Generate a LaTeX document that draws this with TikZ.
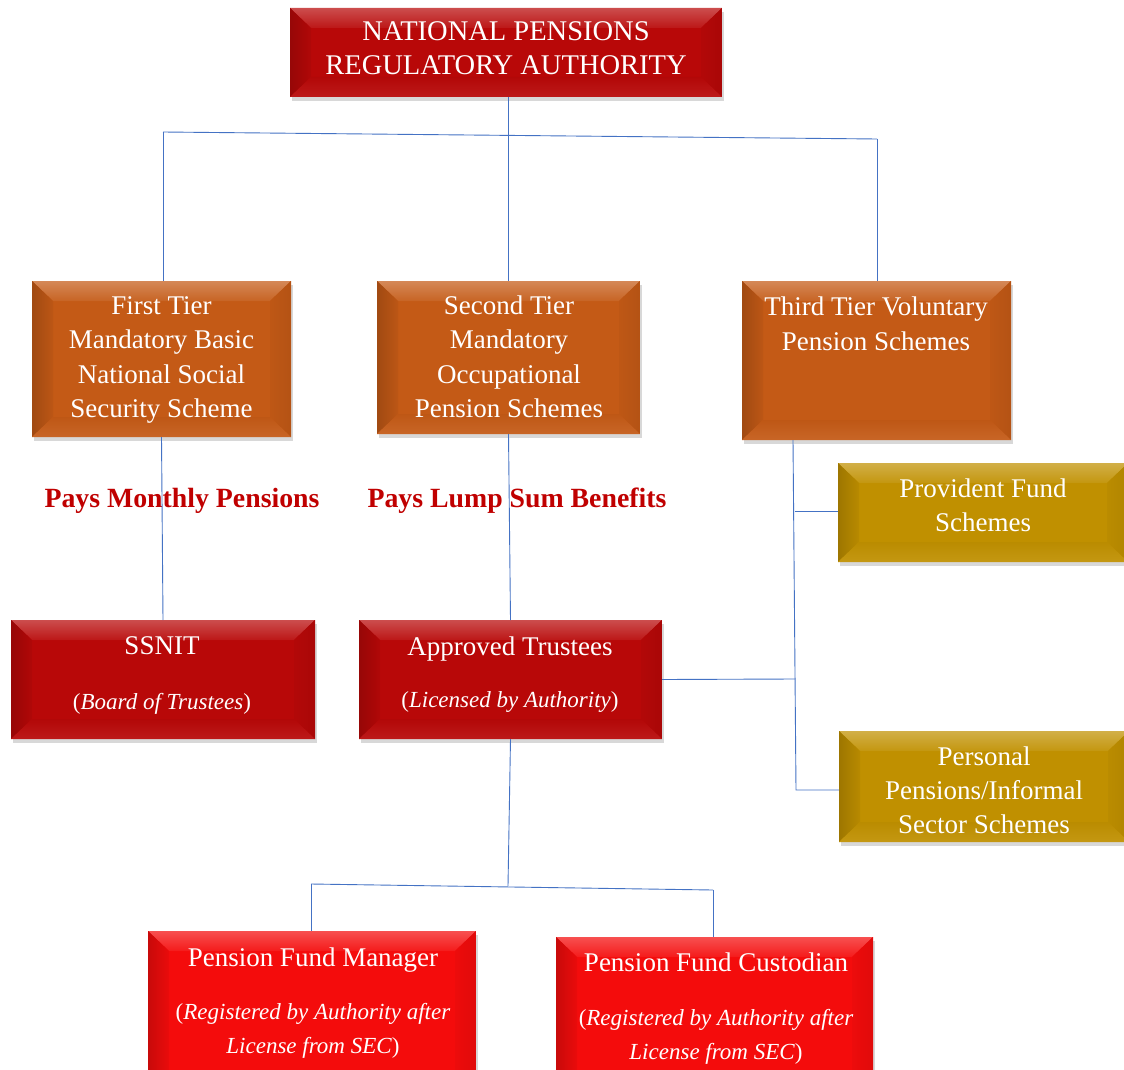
\documentclass[tikz,border=0pt]{standalone}
\usepackage{fontspec}
\setmainfont{Liberation Serif}
\usetikzlibrary{shadows}
\definecolor{darkred}{RGB}{184,8,8}
\definecolor{brightred}{RGB}{244,12,12}
\definecolor{tierorange}{RGB}{196,90,22}
\definecolor{gold}{RGB}{192,144,0}
\definecolor{linkblue}{RGB}{68,114,196}
\definecolor{labelred}{RGB}{192,0,0}
\newcommand\itpart[1]{{\fontsize{23}{28}\selectfont #1}}
\tikzset{
  bev/.style={rectangle, inner sep=0pt, outer sep=0pt, fill=#1,
    drop shadow={opacity=0.3, shadow xshift=2pt, shadow yshift=-4pt},
    path picture={
      \coordinate (bvnw) at (path picture bounding box.north west);
      \coordinate (bvne) at (path picture bounding box.north east);
      \coordinate (bvsw) at (path picture bounding box.south west);
      \coordinate (bvse) at (path picture bounding box.south east);
      \shade[top color=#1!72!white, bottom color=#1!94!white] (bvnw) -- (bvne) -- ([xshift=-21pt,yshift=-20pt]bvne) -- ([xshift=21pt,yshift=-20pt]bvnw) -- cycle;
      \shade[left color=#1!82!black, right color=#1!96!black] (bvnw) -- ([xshift=21pt,yshift=-20pt]bvnw) -- ([xshift=21pt,yshift=20pt]bvsw) -- (bvsw) -- cycle;
      \shade[left color=#1!97!black, right color=#1!92!black] (bvne) -- ([xshift=-21pt,yshift=-20pt]bvne) -- ([xshift=-21pt,yshift=20pt]bvse) -- (bvse) -- cycle;
      \shade[top color=#1!97!black, bottom color=#1!93!white] (bvsw) -- ([xshift=21pt,yshift=20pt]bvsw) -- ([xshift=-21pt,yshift=20pt]bvse) -- (bvse) -- cycle;
    }},
  txt/.style={text=white, inner sep=0pt, anchor=base, font=\fontsize{27}{34}\selectfont},
  lbl/.style={text=labelred, inner sep=0pt, anchor=base, font=\fontsize{27.8}{30}\selectfont\bfseries},
  conn/.style={draw=linkblue, line width=0.9pt},
}
\begin{document}
\begin{tikzpicture}[x=1pt,y=-1pt]
\useasboundingbox (0,0) rectangle (1124,1070);
\clip (0,0) rectangle (1124,1070);
\fill[white] (0,0) rectangle (1124,1070);

% boxes
\node[bev=darkred, minimum width=432pt, minimum height=89pt] (npra) at (506,52.5) {};
\node[bev=tierorange, minimum width=259pt, minimum height=156pt] (t1) at (161.5,359) {};
\node[bev=tierorange, minimum width=263pt, minimum height=153pt] (t2) at (508.5,357.5) {};
\node[bev=tierorange, minimum width=269pt, minimum height=159pt] (t3) at (876.5,360.5) {};
\node[bev=gold, minimum width=290pt, minimum height=99pt] (prov) at (983,512.5) {};
\node[bev=gold, minimum width=290pt, minimum height=111pt] (pers) at (984,786.5) {};
\node[bev=darkred, minimum width=304pt, minimum height=119pt] (ssnit) at (163,679.5) {};
\node[bev=darkred, minimum width=303pt, minimum height=119pt] (appr) at (510.5,679.5) {};
\node[bev=brightred, minimum width=328pt, minimum height=159pt] (pfm) at (312,1010.5) {};
\node[bev=brightred, minimum width=317pt, minimum height=159pt] (pfc) at (714.5,1016.5) {};

% texts
\node[txt, font=\fontsize{28.5}{34}\selectfont] (npra-t) at (506,41) {\begin{tabular}[t]{@{}c@{}}NATIONAL PENSIONS\\REGULATORY AUTHORITY\end{tabular}};
\node[txt] (t1-t) at (161.5,314) {\begin{tabular}[t]{@{}c@{}}First Tier\\[0.5pt]Mandatory Basic\\[0.5pt]National Social\\[0.5pt]Security Scheme\end{tabular}};
\node[txt] (t2-t) at (509,314) {\begin{tabular}[t]{@{}c@{}}Second Tier\\[0.5pt]Mandatory\\[0.5pt]Occupational\\[0.5pt]Pension Schemes\end{tabular}};
\node[txt] (t3-t) at (876,315) {\begin{tabular}[t]{@{}c@{}}Third Tier Voluntary\\[1pt]Pension Schemes\end{tabular}};
\node[txt] (prov-t) at (983,497) {\begin{tabular}[t]{@{}c@{}}Provident Fund\\Schemes\end{tabular}};
\node[txt] (pers-t) at (984,765) {\begin{tabular}[t]{@{}c@{}}Personal\\Pensions/Informal\\Sector Schemes\end{tabular}};
\node[txt] (ssnit-t) at (162,654) {\begin{tabular}[t]{@{}c@{}}SSNIT\\[21pt]\itpart{(\textit{Board of Trustees})}\end{tabular}};
\node[txt] (appr-t) at (510,655) {\begin{tabular}[t]{@{}c@{}}Approved Trustees\\[18pt]\itpart{(\textit{Licensed by Authority})}\end{tabular}};
\node[txt] (pfm-t) at (313,966) {\begin{tabular}[t]{@{}c@{}}Pension Fund Manager\\[19pt]\itpart{(\textit{Registered by Authority after}}\\\itpart{\textit{License from SEC})}\end{tabular}};
\node[txt] (pfc-t) at (716,971) {\begin{tabular}[t]{@{}c@{}}Pension Fund Custodian\\[20pt]\itpart{(\textit{Registered by Authority after}}\\\itpart{\textit{License from SEC})}\end{tabular}};

% labels
\node[lbl] (lbl1) at (182,507) {Pays Monthly Pensions};
\node[lbl] (lbl2) at (517,507) {Pays Lump Sum Benefits};

% connectors
\coordinate (busL) at (163,132);
\coordinate (busR) at (877,139);
\draw[conn] (npra.south -| t2.north) -- (t2.north);
\draw[conn] (busL) -- (busR);
\draw[conn] (busL) -- (busL |- t1.north);
\draw[conn] (busR) -- (busR |- t3.north);
\draw[conn] (t1.south) -- (ssnit.north);
\draw[conn] (t2.south) -- (appr.north);
\coordinate (v3top) at ([xshift=51pt]t3.south west);
\coordinate (v3mid) at (794.5,511);
\coordinate (v3app) at (795,679);
\coordinate (v3bot) at (796,790);
\draw[conn] (v3top) -- (v3bot) -- (v3bot -| pers.west);
\draw[conn] (v3mid) -- (v3mid -| prov.west);
\draw[conn] (appr.east) -- (v3app);
\coordinate (bbus) at (508,886);
\coordinate (bbL) at (311,884);
\coordinate (bbR) at (713,890);
\draw[conn] (appr.south) -- (bbus);
\draw[conn] (bbL) -- (bbR);
\draw[conn] (bbL) -- (bbL |- pfm.north);
\draw[conn] (bbR) -- (bbR |- pfc.north);
\end{tikzpicture}
\end{document}
